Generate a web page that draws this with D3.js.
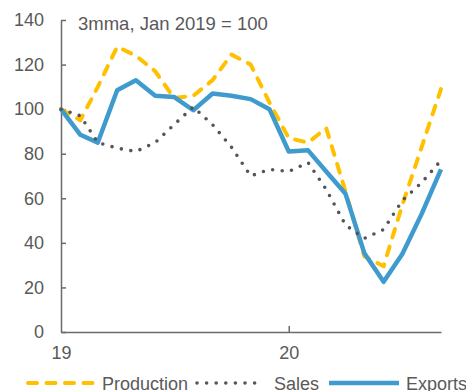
<!DOCTYPE html>
<html>
<head>
<meta charset="utf-8">
<script src="https://cdn.jsdelivr.net/npm/d3@7"></script>
<style>
html,body{margin:0;padding:0;background:#fff;}
svg{display:block;font-family:"Liberation Sans",Arial,sans-serif;}
</style>
</head>
<body>
<svg id="chart" width="466" height="391"></svg>
<script>
const months = ["2019-01","2019-02","2019-03","2019-04","2019-05","2019-06","2019-07","2019-08","2019-09","2019-10","2019-11","2019-12","2020-01","2020-02","2020-03","2020-04","2020-05","2020-06","2020-07","2020-08","2020-09"];
const production = [100, 95, 110, 128, 124, 117, 105, 106, 113, 124.5, 120, 103, 87, 85, 91.5, 63, 34, 29.5, 57, 83, 109];
const sales = [100, 97, 85, 82.5, 81, 85, 93, 101, 93, 83, 70, 73, 72, 76, 64, 48, 42, 46, 59, 67, 77];
const exportsS = [100, 88.5, 85, 108.5, 113, 106, 105.5, 99.5, 107, 106, 104.5, 100, 81, 81.5, 72, 62, 35.5, 22.5, 35, 53, 73];
const yTicks = [0, 20, 40, 60, 80, 100, 120, 140];
const xTickLabels = ["19", "20"];
const xTickDates = ["2019-01", "2020-01"];
const title = "3mma, Jan 2019 = 100";
const seriesNames = ["Production", "Sales", "Exports"];

(function () {
const parse = d3.timeParse("%Y-%m");
const dates = months.map(parse);

const svg = d3.select("#chart");
const mLeft = 61, mRight = 441, mTop = 20, mBottom = 332;
const x = d3.scaleTime().domain([dates[0], dates[dates.length-1]]).range([mLeft, mRight]);
const y = d3.scaleLinear().domain([0, 140]).range([mBottom, mTop]);

const axisColor = "#6b6b6b";
const textColor = "#595959";
const fs = "18px";

// Y axis
const yAxis = d3.axisLeft(y).tickValues(yTicks).tickSize(-5).tickSizeOuter(0).tickPadding(17).tickFormat(d3.format("d"));
const gy = svg.append("g").attr("transform", `translate(${mLeft},0)`).call(yAxis);
gy.select(".domain").attr("stroke", axisColor).attr("stroke-width", 1.5);
gy.selectAll(".tick line").attr("stroke", axisColor).attr("stroke-width", 1.5);
gy.selectAll(".tick text").attr("fill", textColor).style("font-size", fs).attr("font-family", "Liberation Sans, Arial, sans-serif");

// X axis
const xAxis = d3.axisBottom(x).tickValues(xTickDates.map(parse)).tickSize(-6).tickSizeOuter(0).tickPadding(14)
  .tickFormat((d, i) => xTickLabels[i]);
const gx = svg.append("g").attr("transform", `translate(0,${mBottom})`).call(xAxis);
gx.select(".domain").attr("stroke", axisColor).attr("stroke-width", 1.5);
gx.selectAll(".tick line").attr("stroke", axisColor).attr("stroke-width", 1.5);
gx.selectAll(".tick").filter((d, i) => i === 0).select("line").remove();
gx.selectAll(".tick text").attr("fill", textColor).style("font-size", fs).attr("font-family", "Liberation Sans, Arial, sans-serif");

// Title
svg.append("text").attr("x", 78).attr("y", 30).attr("fill", textColor)
  .style("font-size", "18.5px").text(title);

const line = d3.line().x((d, i) => x(dates[i])).y(d => y(d));

const styles = {
  Production: {color: "#FFC000", width: 4, dash: "9,9.5", cap: "round"},
  Sales: {color: "#555555", width: 3.6, dash: "0,9.6", cap: "round"},
  Exports: {color: "#3F9BCE", width: 4.5, dash: null, cap: "butt"}
};
const dataMap = {Production: production, Sales: sales, Exports: exportsS};

["Production", "Exports", "Sales"].forEach(name => {
  const s = styles[name];
  svg.append("path").datum(dataMap[name]).attr("d", line)
    .attr("fill", "none").attr("stroke", s.color).attr("stroke-width", s.width)
    .attr("stroke-linejoin", "round").attr("stroke-linecap", s.cap)
    .attr("stroke-dasharray", s.dash);
});

// Legend
const legendY = 383;
const legendItems = [
  {name: seriesNames[0], x1: 28, x2: 95, tx: 102},
  {name: seriesNames[1], x1: 197, x2: 258, tx: 274},
  {name: seriesNames[2], x1: 329, x2: 399, tx: 406}
];
legendItems.forEach(it => {
  const s = styles[it.name];
  svg.append("line").attr("x1", it.x1).attr("x2", it.x2).attr("y1", legendY).attr("y2", legendY)
    .attr("stroke", s.color).attr("stroke-width", s.width).attr("stroke-linecap", s.cap)
    .attr("stroke-dasharray", s.dash);
  svg.append("text").attr("x", it.tx).attr("y", legendY + 7).attr("fill", textColor)
    .style("font-size", fs).text(it.name);
});
})();
</script>
</body>
</html>
